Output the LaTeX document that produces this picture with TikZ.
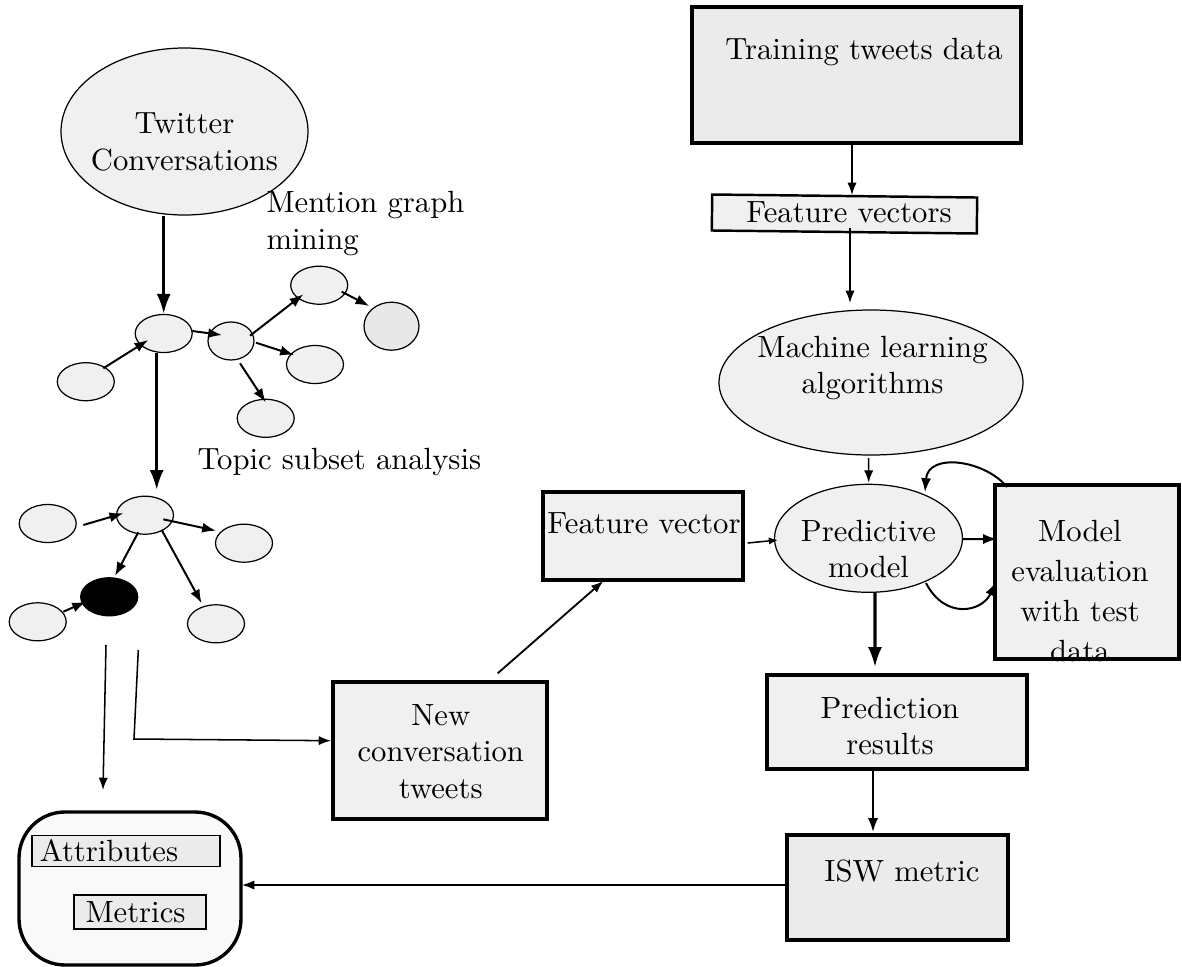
\documentclass[tikz,border=0pt]{standalone}
\usetikzlibrary{shapes.geometric,arrows.meta,calc}
\definecolor{fillA}{HTML}{F0F0F0}
\definecolor{fillB}{HTML}{EBEBEB}
\definecolor{fillC}{HTML}{F9F9F9}
\definecolor{fillE}{HTML}{E8E8E8}
\begin{document}
\begin{tikzpicture}[x=0.326pt,y=-0.326pt,
  sz/.style 2 args={minimum width=#1*0.326pt,minimum height=#2*0.326pt},
  ell/.style={ellipse,draw,fill=fillA,line width=0.4pt,inner sep=0pt},
  sm/.style={ell,sz={57}{38}},
  box/.style={rectangle,draw,fill=fillA,line width=1pt,inner sep=0pt},
  txt/.style={inner sep=0pt,align=center,font=\fontsize{10}{12}\selectfont},
  arr/.style={-{Latex[length=4.5pt,width=3.3pt]},line width=0.65pt},
  larr/.style={-{Latex[length=4pt,width=3pt]},line width=0.5pt},
  tarr/.style={-{Latex[length=6.5pt,width=4.6pt]},line width=1pt}]
\useasboundingbox (0,0) rectangle (1182,967);
% left: twitter and graphs
\node[ell,sz={247}{167}] (tw) at (184.5,131.5) {};
\node[txt] (twT) at (184.5,142) {Twitter\\Conversations};
\node[sm] (A) at (163.7,333.5) {};
\node[sm] (B) at (85.8,381.7) {};
\node[ell,sz={46}{38}] (C) at (231,341) {};
\node[sm] (D) at (319.2,285.2) {};
\node[ell,fill=fillE,sz={55}{48}] (E) at (391.5,326.2) {};
\node[sm] (F) at (315,364.5) {};
\node[sm] (G) at (265.7,418.3) {};
\node[sm] (H) at (145,515.2) {};
\node[sm] (I) at (47.7,523.5) {};
\node[sm] (J) at (244,543.2) {};
\node[sm,fill=black] (K) at (109.2,596.8) {};
\node[sm] (L) at (37.7,621.8) {};
\node[sm] (M) at (216,623.8) {};
\node[txt,anchor=west,align=left] (mgm) at (266,223.5) {Mention graph\\mining};
\node[txt,anchor=west] (tsa) at (197,462) {Topic subset analysis};
% right column
\node[box,fill=fillB,sz={329}{136}] (train) at (856.5,75) {};
\node[txt] (trainT) at (864,52) {Training tweets data};
\node[box,sz={265}{36},rotate=-0.65,line width=0.8pt] (fvs) at (844.5,214) {};
\node[txt] (fvsT) at (849,212) {Feature vectors};
\node[ell,sz={304}{145}] (ml) at (871,382.5) {};
\node[txt] (mlT) at (872.5,368) {Machine learning\\algorithms};
\node[ell,sz={188}{108}] (pm) at (868.5,538.3) {};
\node[txt] (pmT) at (868.5,549) {Predictive\\model};
\node[box,sz={200}{88}] (fv) at (643,536) {};
\node[txt] (fvT) at (644,523) {Feature vector};
\node[box,sz={184}{174}] (me) at (1087,572) {};
\node[txt,font=\fontsize{10}{13}\selectfont] (meT) at (1080,591) {Model\\evaluation\\with test\\data};
\node[box,sz={260}{94}] (pr) at (897,722) {};
\node[txt] (prT) at (890,726) {Prediction\\results};
\node[box,fill=fillB,sz={221}{105}] (isw) at (897.5,887.5) {};
\node[txt] (iswT) at (902,871) {ISW metric};
\node[box,sz={214}{137}] (nc) at (440,750.5) {};
\node[txt] (ncT) at (440.8,751.5) {New\\conversation\\tweets};
\node[box,fill=fillC,rounded corners=15pt,line width=1.1pt,sz={222}{153}] (out) at (130,888.5) {};
\node[box,fill=fillB,line width=0.55pt,sz={188}{31}] (attr) at (126,851) {};
\node[txt] (attrT) at (109,851) {Attributes};
\node[box,fill=fillB,line width=0.55pt,sz={132}{34}] (met) at (140,912) {};
\node[txt] (metT) at (135.5,912) {Metrics};
% graph connectors
\draw[tarr] (A.north |- tw.south) -- (A.north);
\draw[arr] ([shift={(17.5,-13.4)}]B.center) -- ([shift={(-15.4,6.5)}]A.center);
\draw[arr] ([shift={(28.6,-2.5)}]A.center) -- ([shift={(-9,-6)}]C.center);
\draw[arr] ([shift={(19,-5.3)}]C.center) -- ([shift={(-15.9,9.1)}]D.center);
\draw[arr] ([shift={(22.5,6.5)}]D.center) -- ([shift={(-22.2,-20.2)}]E.center);
\draw[arr] ([shift={(25,1.7)}]C.center) -- ([shift={(-21,-9.5)}]F.center);
\draw[arr] ([shift={(9,22.3)}]C.center) -- ([shift={(0,-16)}]G.center);
\draw[tarr] ([shift={(-7,19.2)}]A.center) -- ([shift={(11.7,-25.2)}]H.center);
\draw[arr] ([shift={(35.6,1.5)}]I.center) -- ([shift={(-21.7,-1.9)}]H.center);
\draw[arr] ([shift={(18.3,4.1)}]H.center) -- ([shift={(-28,-12.5)}]J.center);
\draw[arr] ([shift={(-6.7,17.1)}]H.center) -- ([shift={(5.8,-20.8)}]K.center);
\draw[arr] ([shift={(25.6,-10.1)}]L.center) -- ([shift={(-23.2,4.9)}]K.center);
\draw[arr] ([shift={(16.7,14.8)}]H.center) -- ([shift={(-14.3,-20.5)}]M.center);
% to bottom
\draw[larr] ([shift={(-3.2,48.2)}]K.center) -- ([shift={(-27,-98.5)}]out.center);
\draw[larr] ([shift={(29.1,53.2)}]K.center) -- ([shift={(24.8,142.2)}]K.center) -- ([shift={(-109,-9.8)}]nc.center);
\draw[larr,line width=0.6pt] ([shift={(57.7,-77.2)}]nc.center) -- ([shift={(-39.7,45)}]fv.center);
\draw[larr,-{Latex[length=3pt,width=2.4pt]}] ([shift={(104.7,7)}]fv.center) -- ([shift={(-90.5,1.7)}]pm.center);
% right connectors
\draw[larr] ([shift={(-4.5,68)}]train.center) -- ([shift={(7.5,-19)}]fvs.center);
\draw[larr] ([shift={(5.5,14)}]fvs.center) -- ([shift={(-21,-79.5)}]ml.center);
\draw[larr] ([shift={(-2.3,75.5)}]ml.center) -- ([shift={(0.2,-55.6)}]pm.center);
\draw[arr] ([shift={(94.2,0.7)}]pm.center) -- ([shift={(-90,-33)}]me.center);
\draw[arr] ([shift={(-80,-85)}]me.center) .. controls (985,460) and (928,452) .. ([shift={(56.5,-46.3)}]pm.center);
\draw[arr] ([shift={(57.5,44.7)}]pm.center) .. controls (945,620) and (982,612) .. ([shift={(-91,10)}]me.center);
\draw[tarr] ([shift={(6.5,53.7)}]pm.center) -- ([shift={(-22,-55)}]pr.center);
\draw[arr] ([shift={(-24,47)}]pr.center) -- ([shift={(-24.5,-55.5)}]isw.center);
\draw[larr] ([shift={(-110.5,-2.5)}]isw.center) -- ([shift={(112,-3.5)}]out.center);
\end{tikzpicture}
\end{document}
